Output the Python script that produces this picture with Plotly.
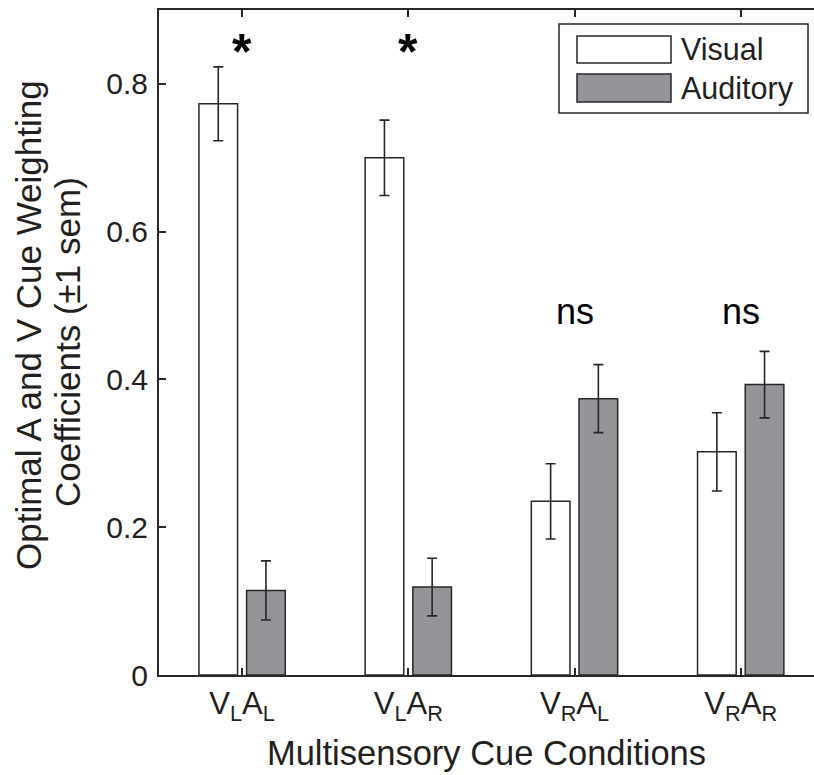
import plotly.graph_objects as go

categories = ["V<sub>L</sub>A<sub>L</sub>", "V<sub>L</sub>A<sub>R</sub>",
              "V<sub>R</sub>A<sub>L</sub>", "V<sub>R</sub>A<sub>R</sub>"]
x_pos = [1, 2, 3, 4]
visual = [0.773, 0.700, 0.235, 0.302]
visual_err = [0.050, 0.051, 0.051, 0.053]
auditory = [0.1145, 0.119, 0.374, 0.393]
auditory_err = [0.040, 0.039, 0.046, 0.045]
sig_labels = ["*", "*", "ns", "ns"]
y_ticks = [0, 0.2, 0.4, 0.6, 0.8]

FONT = "Liberation Sans, Arial, Helvetica, sans-serif"
DARK = "#2a2627"
GRAY = "#939598"

fig = go.Figure()
fig.add_trace(go.Bar(
    x=x_pos, y=visual, name="Visual",
    marker=dict(color="white", line=dict(color=DARK, width=1.5)),
    error_y=dict(type="data", array=visual_err, color=DARK, thickness=1.6, width=5),
))
fig.add_trace(go.Bar(
    x=x_pos, y=auditory, name="Auditory",
    marker=dict(color=GRAY, line=dict(color=DARK, width=1.5)),
    error_y=dict(type="data", array=auditory_err, color=DARK, thickness=1.6, width=5),
))

L, T, B = 159, 10, 100
W, H = 814, 775
pw = W - L
ph = H - T - B

def px_x(px):
    return (px - L) / pw

def px_y(py):
    return (H - B - py) / ph

# significance labels
for xv, lab in zip(x_pos, sig_labels):
    if lab == "*":
        fig.add_annotation(x=xv, y=0.843, text="<b>*</b>", showarrow=False,
                           font=dict(family=FONT, size=50, color="black"),
                           xanchor="center", yanchor="middle")
    else:
        fig.add_annotation(x=xv, y=0.492, text=lab, showarrow=False,
                           font=dict(family=FONT, size=36, color="black"),
                           xanchor="center", yanchor="middle")

# manual legend
shapes = [
    dict(type="rect", xref="paper", yref="paper",
         x0=px_x(559), x1=px_x(808), y0=px_y(113), y1=px_y(24),
         line=dict(color=DARK, width=1.5), fillcolor="white", layer="above"),
    dict(type="rect", xref="paper", yref="paper",
         x0=px_x(577), x1=px_x(671), y0=px_y(63), y1=px_y(36),
         line=dict(color=DARK, width=1.5), fillcolor="white", layer="above"),
    dict(type="rect", xref="paper", yref="paper",
         x0=px_x(577), x1=px_x(671), y0=px_y(102), y1=px_y(74),
         line=dict(color=DARK, width=1.5), fillcolor=GRAY, layer="above"),
]
for name, cy in [("Visual", 49.5), ("Auditory", 88)]:
    fig.add_annotation(xref="paper", yref="paper", x=px_x(679), y=px_y(cy),
                       text=name, showarrow=False, xanchor="left", yanchor="middle",
                       font=dict(family=FONT, size=30.5, color="#231f20"))

# y title (two lines)
fig.add_annotation(xref="paper", yref="paper", x=px_x(28), y=px_y(325),
                   text="Optimal A and V Cue Weighting", textangle=-90, showarrow=False,
                   xanchor="center", yanchor="middle",
                   font=dict(family=FONT, size=35, color="#231f20"))
fig.add_annotation(xref="paper", yref="paper", x=px_x(68), y=px_y(342),
                   text="Coefficients (±1 sem)", textangle=-90, showarrow=False,
                   xanchor="center", yanchor="middle",
                   font=dict(family=FONT, size=35, color="#231f20"))

fig.update_layout(
    width=W, height=H,
    margin=dict(l=L, r=0, t=T, b=B),
    paper_bgcolor="white", plot_bgcolor="white",
    barmode="group", bargap=0.426, bargroupgap=0.19,
    showlegend=False,
    shapes=shapes,
    font=dict(family=FONT, color="#231f20"),
)
fig.update_xaxes(
    range=[0.5, 0.5 + pw / 166.2],
    tickvals=x_pos, ticktext=categories,
    ticks="inside", ticklen=7, tickwidth=1.5, tickcolor=DARK,
    showline=True, linecolor=DARK, linewidth=2, mirror="ticks",
    showgrid=False, zeroline=False,
    tickfont=dict(family=FONT, size=31, color="#231f20"),
    ticklabelstandoff=0,
    title=dict(text="Multisensory Cue Conditions",
               font=dict(family=FONT, size=34.5, color="#231f20"), standoff=16),
)
fig.update_yaxes(
    range=[0, 0.9],
    tickvals=y_ticks, ticktext=["0", "0.2", "0.4", "0.6", "0.8"],
    ticks="inside", ticklen=7, tickwidth=1.5, tickcolor=DARK,
    showline=True, linecolor=DARK, linewidth=2, mirror=False,
    showgrid=False, zeroline=False,
    tickfont=dict(family=FONT, size=30, color="#231f20"),
    ticklabelstandoff=3,
)

fig.write_html("out.html")
